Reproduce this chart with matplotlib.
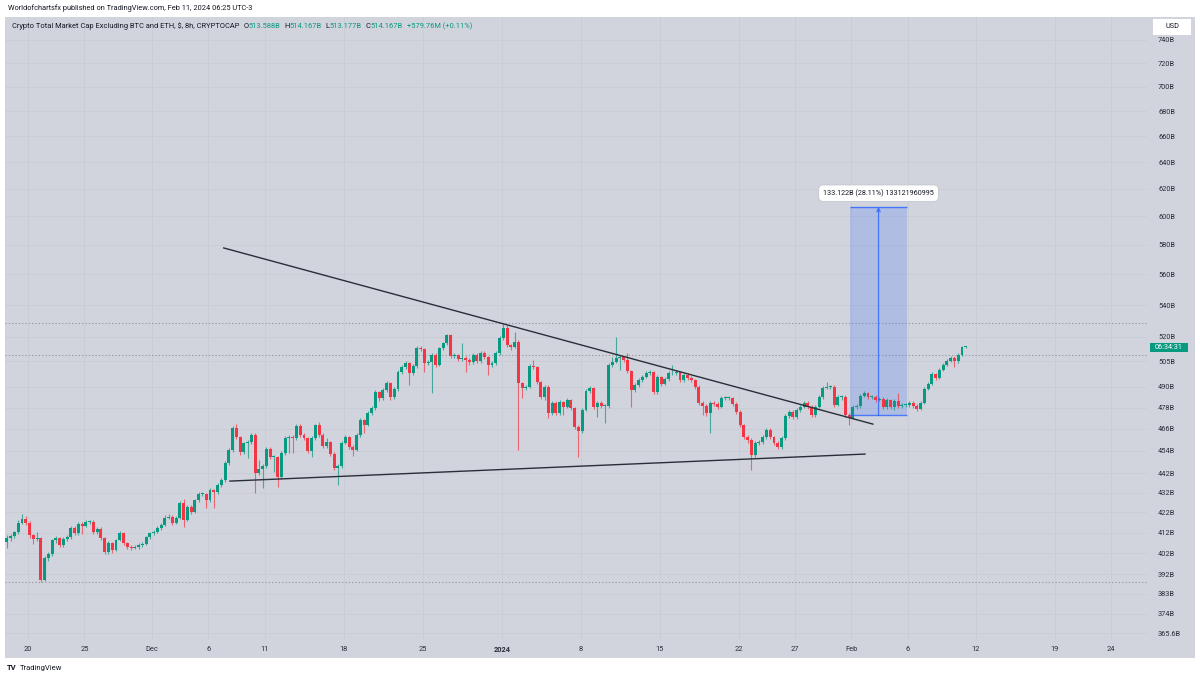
import matplotlib
matplotlib.use("Agg")
import matplotlib.pyplot as plt
from matplotlib.patches import Rectangle
from matplotlib.ticker import NullLocator, NullFormatter
import numpy as np

W, H = 1200, 680

# --- datos: velas de 8h, precios en miles de millones (B) ---
first_open = 402.0
closes = [
    407.3, 409.3, 410.3, 412.2, 416.7, 418.7, 416.7, 410.8, 408.8, 409.3,
    389.4, 399.7, 401.6, 408.3, 409.3, 405.9, 408.8, 409.8, 414.2, 411.8,
    416.2, 415.2, 417.2, 417.2, 412.2, 413.7, 409.3, 402.5, 406.9, 403.5,
    408.3, 411.8, 406.9, 404.9, 404.5, 404.9, 405.9, 406.4, 409.8, 411.8,
    412.2, 414.2, 415.7, 419.2, 419.7, 416.7, 419.2, 426.7, 418.2, 424.7,
    422.2, 428.2, 431.3, 431.3, 428.2, 433.4, 432.4, 435.9, 438.5, 447.5,
    454.5, 466.5, 461.5, 453.4, 458.3, 458.8, 462.6, 442.2, 444.3, 446.0,
    455.0, 450.7, 450.7, 440.1, 452.9, 461.0, 461.5, 461.0, 467.6, 462.6,
    461.0, 454.0, 461.0, 468.2, 462.6, 456.7, 458.8, 452.4, 444.9, 446.0,
    458.3, 461.5, 456.1, 454.5, 462.6, 471.0, 468.2, 474.9, 477.7, 486.8,
    483.5, 488.1, 492.2, 484.1, 488.7, 498.6, 501.6, 504.0, 498.0, 502.2,
    513.0, 512.4, 504.0, 504.6, 508.8, 502.8, 513.0, 516.1, 521.1, 508.2,
    508.8, 506.4, 507.0, 505.8, 504.6, 508.8, 505.2, 510.0, 507.6, 502.8,
    504.0, 510.0, 519.2, 525.4, 514.9, 513.7, 516.8, 492.2, 489.3, 489.9,
    502.2, 501.6, 492.8, 484.1, 489.9, 474.9, 480.6, 474.9, 481.2, 478.3,
    482.3, 477.7, 467.1, 464.8, 476.6, 487.5, 489.3, 478.3, 480.6, 478.9,
    478.9, 502.8, 504.6, 507.0, 507.6, 505.8, 499.2, 488.1, 491.0, 493.9,
    495.7, 498.0, 498.6, 486.9, 495.7, 491.6, 494.5, 498.0, 498.0, 498.6,
    493.9, 496.9, 495.1, 493.9, 489.9, 480.6, 478.9, 474.9, 480.6, 480.0,
    478.3, 483.5, 483.5, 483.5, 480.0, 475.5, 468.2, 461.5, 459.9, 451.8,
    458.3, 458.8, 461.5, 465.4, 461.5, 458.3, 456.1, 461.0, 473.2, 475.5,
    472.7, 476.6, 478.3, 480.6, 478.3, 473.8, 478.3, 484.1, 489.3, 489.9,
    489.9, 479.5, 484.1, 484.1, 473.8, 472.1, 478.3, 478.9, 484.6, 486.4,
    484.1, 484.1, 482.3, 482.9, 478.3, 482.3, 478.3, 481.8, 478.9, 479.5,
    479.5, 480.6, 478.9, 477.2, 480.6, 488.7, 491.6, 497.5, 495.1, 499.8,
    502.8, 505.2, 507.0, 505.2, 508.8, 513.588, 514.167,
]
highs = [
    408.5, 410.8, 411.5, 413.0, 418.0, 421.0, 420.0, 417.5, 411.5, 412.2,
    410.0, 400.5, 402.5, 409.0, 410.5, 410.0, 409.8, 411.0, 415.0, 415.0,
    417.0, 417.0, 418.0, 418.3, 418.0, 414.5, 414.5, 410.0, 407.8, 407.5,
    409.0, 413.0, 412.5, 407.5, 405.8, 405.8, 406.8, 407.3, 410.5, 412.5,
    413.5, 415.0, 416.5, 420.5, 421.0, 420.5, 420.0, 428.0, 428.8, 425.5,
    425.5, 429.0, 432.5, 432.5, 432.0, 434.5, 434.0, 437.0, 439.5, 448.5,
    455.5, 467.5, 468.8, 462.0, 459.0, 460.0, 463.5, 463.5, 449.1, 447.0,
    456.0, 456.0, 451.8, 451.5, 454.0, 462.0, 462.5, 462.5, 468.5, 468.5,
    463.5, 461.8, 462.0, 469.0, 469.9, 463.5, 461.0, 459.5, 453.2, 447.0,
    459.2, 462.5, 462.3, 457.0, 463.5, 472.0, 471.8, 476.0, 478.8, 488.0,
    487.8, 489.0, 493.3, 493.0, 489.8, 499.8, 503.0, 505.5, 504.8, 503.2,
    514.2, 514.5, 513.2, 505.8, 510.0, 509.8, 514.0, 517.0, 521.7, 521.8,
    510.0, 509.5, 516.1, 508.0, 506.8, 510.0, 509.8, 511.0, 511.0, 508.5,
    505.0, 511.2, 520.2, 528.6, 527.3, 515.8, 523.0, 517.8, 493.0, 491.0,
    503.2, 505.8, 502.5, 493.5, 491.0, 490.8, 481.8, 481.5, 482.3, 482.0,
    483.3, 483.0, 478.5, 468.0, 477.5, 488.5, 490.5, 490.0, 481.5, 481.5,
    480.0, 503.8, 507.5, 519.8, 508.8, 508.5, 510.0, 500.0, 492.0, 495.0,
    496.8, 499.0, 499.8, 499.5, 496.8, 496.5, 495.5, 499.5, 502.8, 499.8,
    499.5, 498.0, 497.8, 496.0, 494.8, 490.8, 481.5, 479.8, 481.5, 481.5,
    481.0, 484.5, 484.8, 484.5, 484.3, 481.0, 476.5, 469.0, 462.5, 460.8,
    459.3, 460.0, 462.8, 466.5, 466.3, 462.3, 459.2, 462.0, 474.3, 476.8,
    476.5, 477.8, 479.5, 481.8, 481.5, 479.2, 479.5, 485.2, 490.5, 492.8,
    491.0, 490.8, 485.0, 485.3, 485.0, 474.8, 479.3, 480.0, 485.6, 487.5,
    487.2, 485.2, 485.0, 484.0, 483.8, 483.3, 483.0, 482.8, 486.4, 480.5,
    480.5, 481.6, 481.5, 479.8, 481.5, 489.6, 492.5, 498.5, 498.3, 500.8,
    503.8, 506.4, 508.2, 508.0, 509.8, 514.5, 514.167,
]
lows = [
    400.5, 404.5, 408.0, 409.5, 411.5, 416.0, 415.5, 409.5, 406.5, 407.8,
    388.5, 388.8, 398.5, 400.5, 407.0, 404.8, 405.0, 408.0, 409.0, 411.0,
    411.0, 411.5, 414.5, 416.3, 411.5, 411.5, 408.5, 401.5, 401.8, 402.0,
    403.0, 407.8, 405.8, 403.8, 403.5, 403.8, 404.2, 405.0, 405.8, 409.0,
    411.0, 411.8, 413.5, 415.0, 418.5, 415.5, 416.0, 418.5, 414.5, 417.5,
    421.0, 421.5, 427.5, 430.3, 424.2, 427.5, 424.2, 431.5, 435.0, 437.5,
    446.5, 453.5, 460.5, 452.0, 452.5, 450.2, 458.0, 431.8, 441.0, 434.4,
    445.0, 449.5, 442.7, 434.9, 439.0, 452.0, 452.9, 452.9, 460.0, 461.5,
    459.8, 453.0, 450.7, 460.0, 461.5, 455.5, 455.8, 451.5, 443.8, 435.9,
    445.0, 457.5, 455.0, 451.3, 453.8, 461.8, 463.7, 467.5, 474.0, 476.8,
    482.0, 482.5, 487.0, 482.5, 483.0, 487.8, 497.5, 500.5, 491.0, 497.0,
    501.2, 511.5, 498.6, 503.0, 486.4, 501.5, 502.0, 512.0, 515.0, 507.0,
    507.0, 505.0, 505.5, 498.6, 503.0, 503.5, 504.0, 504.2, 506.5, 496.9,
    501.8, 503.0, 509.0, 518.2, 513.8, 511.8, 512.8, 454.5, 483.5, 488.0,
    489.0, 500.5, 491.5, 483.0, 482.5, 472.2, 474.0, 473.8, 474.0, 474.0,
    477.5, 476.5, 466.0, 450.7, 464.0, 475.8, 486.5, 477.0, 472.7, 477.8,
    469.3, 478.0, 501.8, 503.8, 499.8, 504.8, 498.0, 478.3, 487.0, 490.0,
    493.0, 495.0, 497.0, 486.0, 486.0, 490.5, 490.8, 493.5, 497.0, 497.0,
    492.8, 493.0, 494.0, 492.8, 488.8, 479.5, 473.8, 473.5, 463.7, 478.8,
    477.0, 477.5, 482.5, 482.3, 479.0, 474.5, 467.0, 460.3, 458.5, 443.8,
    450.5, 457.0, 457.8, 460.5, 460.5, 457.0, 454.8, 455.0, 460.2, 472.3,
    471.5, 471.8, 475.5, 477.5, 477.0, 472.5, 472.8, 477.5, 483.0, 488.5,
    488.8, 478.5, 478.8, 482.5, 472.5, 468.2, 471.3, 477.2, 478.0, 483.8,
    483.0, 483.0, 481.3, 481.5, 477.0, 477.3, 477.0, 476.6, 477.8, 478.0,
    478.3, 478.5, 478.0, 476.3, 476.5, 479.8, 488.0, 490.8, 494.2, 494.5,
    499.0, 502.0, 504.4, 501.5, 504.3, 508.0, 513.177,
]

# días contados desde el 20 de noviembre
first_day = -2.2
date_tick_days = [0, 5, 11, 16, 21, 28, 35, 42, 49, 56, 63, 68, 73, 78, 84, 91, 96]
date_tick_labels = ["20", "25", "Dec", "6", "11", "18", "25", "2024", "8", "15",
                    "22", "27", "Feb", "6", "12", "19", "24"]
price_ticks = [365.6, 374, 383, 392, 402, 412, 422, 432, 442, 454, 466, 478, 490,
               505, 520, 540, 560, 580, 600, 620, 640, 660, 680, 700, 720, 740]
price_tick_labels = ["365.6B"] + [f"{p}B" for p in price_ticks[1:]]

upper_trend_days = [17.35, 74.9]
upper_trend_prices = [577.9, 468.7]
lower_trend_days = [17.9, 74.2]
lower_trend_prices = [438.0, 452.3]

measure_days = [72.87, 77.93]
measure_prices = [473.6, 606.7]
measure_label = "133.122B (28.11%) 133121960995"
prev_close_line = 508.8

BG = "#d1d4dc"
GRID = "#c9ccd4"
GREEN = "#089981"
RED = "#f23645"
TXT = "#131722"
BLUE = "#2962ff"

plt.rcParams["font.family"] = ["Roboto", "DejaVu Sans"]

fig = plt.figure(figsize=(W / 100, H / 100), dpi=100)
fig.patch.set_facecolor("white")


def fx(px):
    return px / W


def fy(py):
    return 1 - py / H


# fondo gris del panel (incluye escala de precios y de fechas)
fig.add_artist(Rectangle((fx(5), fy(658)), fx(1195) - fx(5), fy(17) - fy(658),
                         transform=fig.transFigure, facecolor=BG, edgecolor="none", zorder=-5))

ax = fig.add_axes([fx(5), fy(640), fx(1147) - fx(5), fy(17) - fy(640)])
ax.set_facecolor(BG)
for s in ax.spines.values():
    s.set_visible(False)

ax.set_yscale("log")
ax.set_ylim(362.6, 760.5)
ax.set_xlim(-2.04, 99.2)
ax.yaxis.tick_right()
ax.set_yticks(price_ticks)
ax.set_yticklabels(price_tick_labels)
ax.yaxis.set_minor_locator(NullLocator())
ax.yaxis.set_minor_formatter(NullFormatter())
ax.set_xticks(date_tick_days)
ax.set_xticklabels(date_tick_labels)
for lab in ax.get_xticklabels():
    if lab.get_text() == "2024":
        lab.set_fontweight("bold")
ax.tick_params(axis="y", length=0, pad=8, labelsize=5.3, labelcolor="#2a2e39")
ax.tick_params(axis="x", length=0, pad=4, labelsize=5.3, labelcolor="#2a2e39")
ax.grid(True, color=GRID, linewidth=0.6, zorder=0)
ax.set_axisbelow(True)

# velas
c = np.array(closes)
o = np.concatenate([[first_open], c[:-1]])
x = first_day + np.arange(len(c)) / 3
cols = np.where(c >= o, GREEN, RED)
ax.vlines(x, lows, highs, colors=cols, linewidth=0.8, alpha=0.7, zorder=3)
ax.bar(x, np.maximum(np.abs(c - o), 0.35), bottom=np.minimum(o, c), width=0.26,
       color=cols, linewidth=0, zorder=4)

# líneas punteadas de máximo / mínimo / cierre previo
for lvl in [max(highs), min(lows), prev_close_line]:
    ax.axhline(lvl, color="#8f929b", linestyle=(0, (1, 2)), linewidth=0.8, zorder=2)

# líneas de tendencia
ax.plot(upper_trend_days, upper_trend_prices, color="#2a2e39", linewidth=1.0, zorder=5)
ax.plot(lower_trend_days, lower_trend_prices, color="#2a2e39", linewidth=1.0, zorder=5)

# herramienta de medición
d0, d1 = measure_days
p0, p1 = measure_prices
ax.add_patch(Rectangle((d0, p0), d1 - d0, p1 - p0, facecolor=BLUE, alpha=0.2,
                       edgecolor="none", zorder=2.5))
ax.hlines([p0, p1], d0, d1, color=BLUE, linewidth=1.0, alpha=0.8, zorder=5)
mid = (d0 + d1) / 2
ax.annotate("", xy=(mid, p1), xytext=(mid, p0),
            arrowprops=dict(arrowstyle="->", color=BLUE, lw=0.9, alpha=0.8,
                            shrinkA=0, shrinkB=0, mutation_scale=6), zorder=6)
ax.annotate(measure_label, xy=(mid, p1), xytext=(0, 10), textcoords="offset points",
            ha="center", va="center", fontsize=5.2, color=TXT, zorder=7,
            bbox=dict(boxstyle="round,pad=0.6", fc="white", ec="#bfc2ca", lw=0.5))

# cabecera
fig.text(fx(8), fy(8), "Worldofchartsfx published on TradingView.com, Feb 11, 2024 06:25 UTC-3",
         fontsize=5.3, color=TXT, va="center")

renderer = fig.canvas.get_renderer()
legend_parts = [
    ("Crypto Total Market Cap Excluding BTC and ETH, \\$, 8h, CRYPTOCAP", TXT, 4),
    ("O", TXT, 0), ("513.588B", GREEN, 4),
    ("H", TXT, 0), ("514.167B", GREEN, 4),
    ("L", TXT, 0), ("513.177B", GREEN, 4),
    ("C", TXT, 0), ("514.167B", GREEN, 4),
    ("+579.76M (+0.11%)", GREEN, 0),
]
cur = 12
for txt, col, gap in legend_parts:
    t = fig.text(fx(cur), fy(26), txt, fontsize=5.4, color=col, va="center")
    cur += t.get_window_extent(renderer).width + gap

# caja USD
fig.add_artist(Rectangle((fx(1153), fy(35)), fx(38), 16 / H, transform=fig.transFigure,
                         facecolor="white", edgecolor="none", zorder=5))
fig.text(fx(1172), fy(27), "USD", fontsize=5.2, color=TXT, ha="center", va="center", zorder=6)

# contador de la vela
fig.add_artist(Rectangle((fx(1150), fy(352)), fx(38), 9 / H, transform=fig.transFigure,
                         facecolor=GREEN, edgecolor="none", zorder=5))
fig.text(fx(1169), fy(347.5), "06:34:31", fontsize=5.2, color="white", ha="center",
         va="center", zorder=6)

# logo inferior
fig.text(fx(7), fy(668), "TV", fontsize=5.5, fontweight="bold", color=TXT, va="center")
fig.text(fx(20), fy(668), "TradingView", fontsize=5.5, color=TXT, va="center")

fig.savefig("out.png", dpi=100, facecolor="white")
